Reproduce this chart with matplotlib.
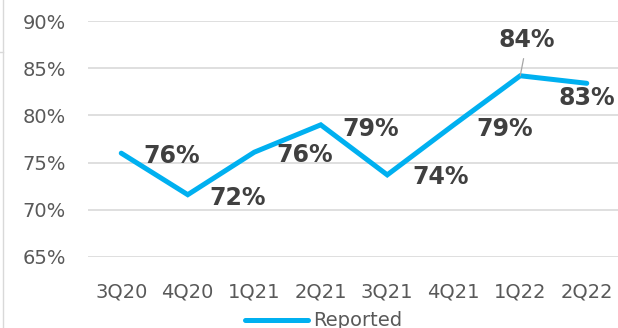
import matplotlib.pyplot as plt
from matplotlib.lines import Line2D

quarters = ['3Q20', '4Q20', '1Q21', '2Q21', '3Q21', '4Q21', '1Q22', '2Q22']
reported = [76.0, 71.6, 76.1, 79.0, 73.7, 79.0, 84.2, 83.4]
labels = ['76%', '72%', '76%', '79%', '74%', '79%', '84%', '83%']
# label offsets in pixels (dx right, dy up)
offsets = [(50, -3), (50, -3), (50, -3), (50, -4), (53, -2), (51, -4), (7, 36), (0, -15)]

fig = plt.figure(figsize=(6.18, 3.28), dpi=100)
ax = fig.add_axes([88 / 618, 71 / 328, 532 / 618, 236 / 328])

x = list(range(len(quarters)))
ax.plot(x, reported, color='#00B0F0', lw=3.6, solid_capstyle='round',
        solid_joinstyle='miter', label='Reported', zorder=3)

ax.set_xlim(-0.5, len(quarters) - 0.5)
ax.set_ylim(65, 90)
ax.set_yticks([65, 70, 75, 80, 85, 90])
ax.set_yticklabels(['65%', '70%', '75%', '80%', '85%', '90%'])
ax.set_xticks(x)
ax.set_xticklabels(quarters)
ax.grid(axis='y', color='#D9D9D9', lw=1.2)
ax.set_axisbelow(True)
for s in ax.spines.values():
    s.set_visible(False)
ax.tick_params(axis='y', length=0, pad=16, labelsize=14, labelcolor='#595959')
ax.tick_params(axis='x', length=0, pad=18, labelsize=14, labelcolor='#595959')

px = 0.72  # pixels -> points at 100 dpi
for i, (lab, (dx, dy)) in enumerate(zip(labels, offsets)):
    if lab == '84%':
        ax.annotate(lab, (x[i], reported[i]), xytext=(dx * px, dy * px),
                    textcoords='offset points', ha='center', va='center',
                    fontsize=17, fontweight='bold', color='#404040',
                    arrowprops=dict(arrowstyle='-', color='#A6A6A6', lw=0.9,
                                    shrinkA=3, shrinkB=0))
    else:
        ax.annotate(lab, (x[i], reported[i]), xytext=(dx * px, dy * px),
                    textcoords='offset points', ha='center', va='center',
                    fontsize=17, fontweight='bold', color='#404040')

fig.legend(loc='center', bbox_to_anchor=(324 / 618, 7 / 328), frameon=False,
           fontsize=14, handlelength=3.2, handletextpad=0.3, labelcolor='#595959')

fig.add_artist(Line2D([3 / 618, 3 / 618], [0, 1], color='#D9D9D9', lw=1))
fig.add_artist(Line2D([0, 3 / 618], [1 - 52 / 328, 1 - 52 / 328], color='#D9D9D9', lw=1))

fig.savefig('out.png', dpi=100)
